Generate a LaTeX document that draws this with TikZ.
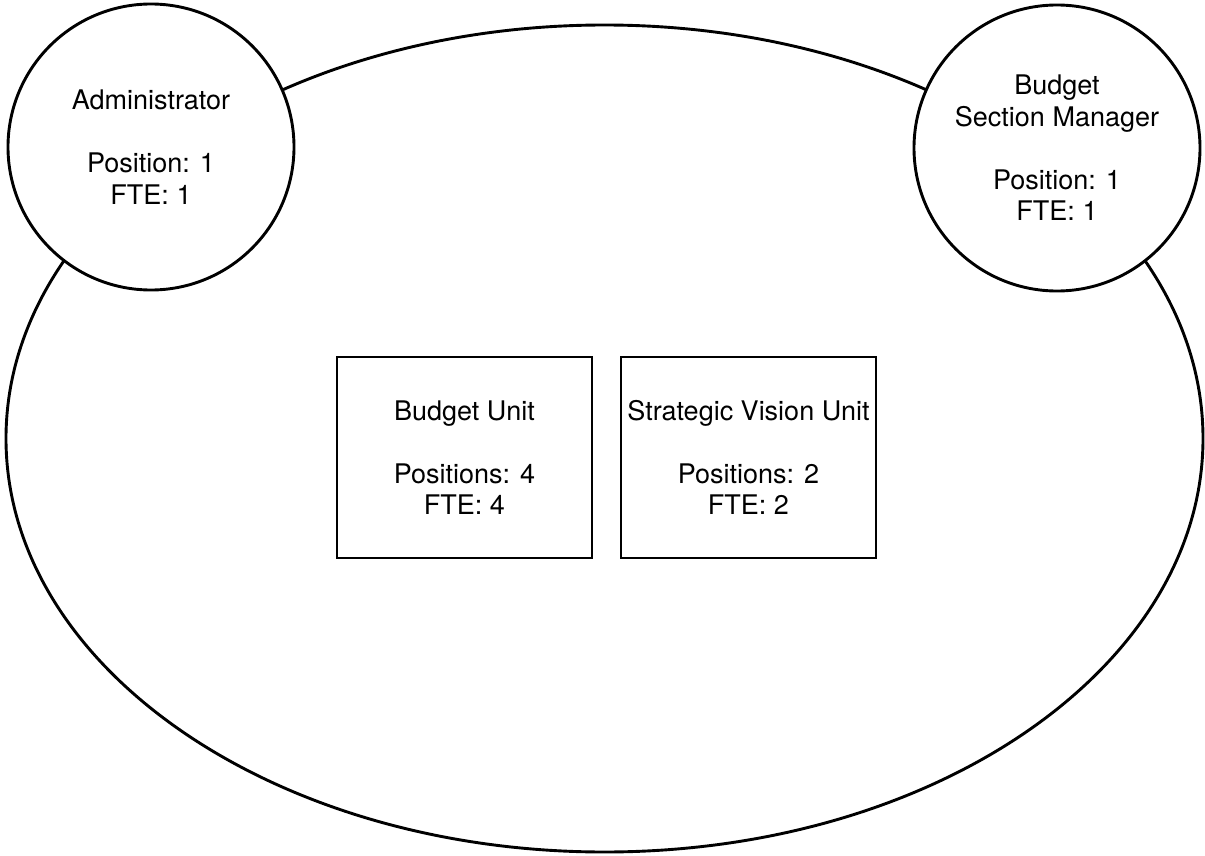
\documentclass[tikz,border=0pt]{standalone}
\usepackage{fontspec}
\setmainfont{TeX Gyre Heros}
\usetikzlibrary{shapes.geometric}

\tikzset{
  outline/.style={draw=black, line width=2.9pt},
  label text/.style={font={\fontsize{27}{31.5}\selectfont}, align=center, text=black},
  section/.style={outline, ellipse, inner sep=0pt,
    minimum width=1197pt, minimum height=827pt},
  post/.style={outline, label text, circle, fill=white, inner sep=0pt,
    minimum size=286pt},
  unit/.style={outline, label text, rectangle, fill=white, inner sep=0pt,
    minimum width=255pt, minimum height=201pt}
}

\begin{document}
\begin{tikzpicture}[x=1pt, y=-1pt]
  \useasboundingbox (0,0) rectangle (1205,856);

  % the budget section as a whole
  \node[section] (sec) at (604.5,438.5) {};

  % the two single posts sitting on the section's rim
  \node[post] (admin) at (151,147)
    {Administrator\\[31.5pt]Position: 1\\FTE: 1};
  \node[post] (mgr) at (1057,148)
    {Budget\\Section Manager\\[31.5pt]Position: 1\\FTE: 1};

  % the units inside the section
  \node[unit] (bud) at (464.5,457.5)
    {Budget Unit\\[31.5pt]Positions: 4\\FTE: 4};
  \node[unit] (svu) at (748.5,457.5)
    {Strategic Vision Unit\\[31.5pt]Positions: 2\\FTE: 2};
\end{tikzpicture}
\end{document}
